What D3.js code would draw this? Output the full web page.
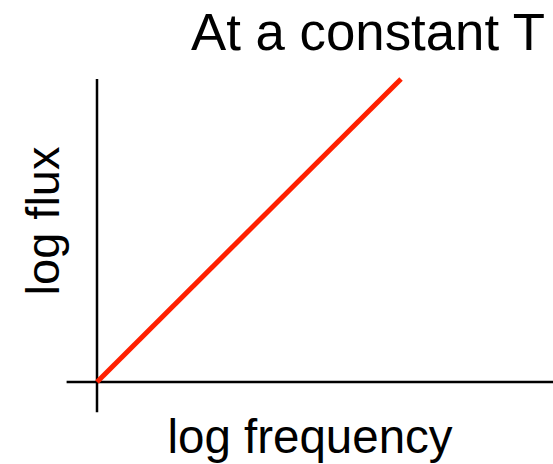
<!DOCTYPE html>
<html>
<head>
<meta charset="utf-8">
<script src="https://cdn.jsdelivr.net/npm/d3@7"></script>
<style>
  body { margin: 0; background: #fff; }
  text { font-family: "Liberation Sans", Arial, sans-serif; fill: #000; }
</style>
</head>
<body>
<script>
// log-log sketch: flux rises linearly with frequency
var logFrequency = [0, 1],
  logFlux = [0, 1];

var xExtent = [-0.1, 1.5],
  yExtent = [-0.1, 1];

var titleText = "At a constant T",
  xLabel = "log frequency",
  yLabel = "log flux";

var width = 553,
  height = 464;

var x = d3.scaleLinear().domain([0, 1]).range([97, 401]);
var y = d3.scaleLinear().domain([0, 1]).range([382, 79]);

var svg = d3
  .select("body")
  .append("svg")
  .attr("width", width)
  .attr("height", height);

// axes, plain lines through the origin
svg.append("line")
  .attr("x1", x(xExtent[0]))
  .attr("x2", x(xExtent[1]))
  .attr("y1", y(0))
  .attr("y2", y(0))
  .attr("stroke", "#000")
  .attr("stroke-width", 2.5);

svg.append("line")
  .attr("x1", x(0))
  .attr("x2", x(0))
  .attr("y1", y(yExtent[0]))
  .attr("y2", y(yExtent[1]))
  .attr("stroke", "#000")
  .attr("stroke-width", 2.5);

var pts = logFrequency.map(function(d, i) {
  return [d, logFlux[i]];
});

var line = d3.line()
  .x(function(d) { return x(d[0]); })
  .y(function(d) { return y(d[1]); });

svg.append("path")
  .datum(pts)
  .attr("d", line)
  .attr("fill", "none")
  .attr("stroke", "#ff2000")
  .attr("stroke-width", 5);

svg.append("text")
  .attr("x", 545)
  .attr("y", 50)
  .attr("text-anchor", "end")
  .attr("textLength", 354)
  .attr("lengthAdjust", "spacingAndGlyphs")
  .style("font-size", "51px")
  .text(titleText);

svg.append("text")
  .attr("x", 310)
  .attr("y", 453)
  .attr("text-anchor", "middle")
  .style("font-size", "47.5px")
  .text(xLabel);

svg.append("text")
  .attr("transform", "translate(59,221) rotate(-90)")
  .attr("text-anchor", "middle")
  .style("font-size", "47px")
  .text(yLabel);
</script>
</body>
</html>
